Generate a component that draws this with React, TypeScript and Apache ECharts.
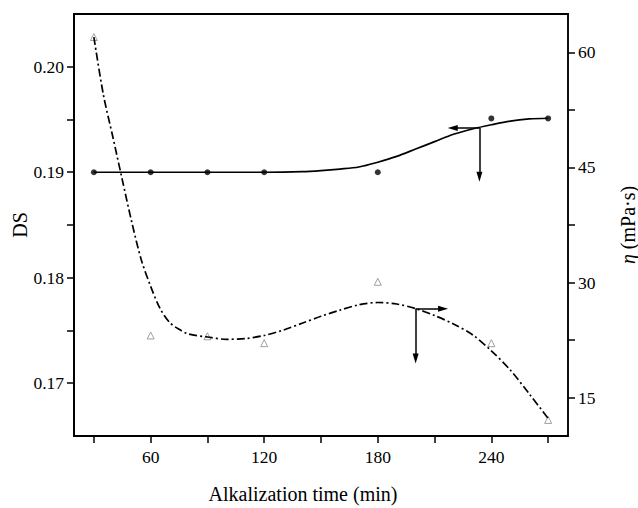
import React, { useEffect, useRef } from "react";
import * as echarts from "echarts";

// Measured data
const timeMin = [30, 60, 90, 120, 180, 240, 270];
const dsValues = [0.19, 0.19, 0.19, 0.19, 0.19, 0.1951, 0.1951];
const viscosityValues = [62, 23.1, 23, 22.1, 30.1, 22.1, 12.1];

// Fitted curves
const dsFitTime = [30, 60, 90, 120, 140, 150, 160, 170, 180, 190, 200, 210, 220, 230, 240, 250, 260, 270];
const dsFitValues = [0.19, 0.19, 0.19, 0.19, 0.19005, 0.19015, 0.1903, 0.1905, 0.19095, 0.1915, 0.1922, 0.1929, 0.1936, 0.1941, 0.1945, 0.19485, 0.19505, 0.19512];
const etaFitTime = [30, 35, 40, 45, 50, 55, 60, 65, 70, 75, 80, 90, 100, 110, 120, 130, 140, 150, 160, 170, 180, 190, 200, 210, 220, 230, 240, 250, 260, 270];
const etaFitValues = [62, 54.5, 49, 43.4, 37.9, 33, 29.5, 26.6, 24.8, 23.9, 23.3, 22.9, 22.6, 22.7, 23.1, 23.8, 24.7, 25.6, 26.4, 27.1, 27.4, 27.2, 26.6, 25.7, 24.6, 23.2, 21.1, 18.6, 15.5, 12.3];

// Axis ticks / labels
const xLabelValues = [60, 120, 180, 240];
const xTickValues = [30, 60, 90, 120, 150, 180, 210, 240, 270];
const dsLabelValues = [0.17, 0.18, 0.19, 0.2];
const dsTickValues = [0.17, 0.175, 0.18, 0.185, 0.19, 0.195, 0.2];
const etaLabelValues = [15, 30, 45, 60];
const etaTickValues = [15, 22.5, 30, 37.5, 45, 52.5, 60];

// Annotation arrows (data coordinates)
const dsArrowOrigin = [233.7, 0.1942];
const dsArrowLeftEnd = 219.6;
const dsArrowDownEnd = 0.18958;
const etaArrowOrigin = [200, 26.6];
const etaArrowRightEnd = 214.5;
const etaArrowDownEnd = 20.1;

const FONT = "Liberation Serif";
const INK = "#000";

export default function App() {
  const ref = useRef<HTMLDivElement>(null);
  useEffect(() => {
    if (!ref.current) return;
    const chart = echarts.init(ref.current, undefined, { renderer: "svg" });
    const arrowLine = { color: INK, width: 1.5, type: "solid" };
    chart.setOption({
      animation: false,
      backgroundColor: "#fff",
      textStyle: { fontFamily: FONT, color: INK },
      grid: {
        left: 74,
        top: 14,
        right: 70,
        bottom: 72,
        outerBoundsMode: "none",
        containLabel: false,
        show: true,
        borderColor: INK,
        borderWidth: 1.5,
        backgroundColor: "transparent",
      },
      xAxis: [
        {
          type: "value",
          position: "bottom",
          min: 19.5,
          max: 280.5,
          name: "Alkalization time (min)",
          nameLocation: "middle",
          nameGap: 48,
          nameTextStyle: { fontSize: 20, fontFamily: FONT, color: INK, padding: [0, 36, 0, 0] },
          axisLine: { show: true, lineStyle: { color: INK, width: 2 } },
          axisTick: { show: true, inside: false, length: 7, customValues: xTickValues, lineStyle: { color: INK, width: 1.5 } },
          axisLabel: { customValues: xLabelValues, fontSize: 17.5, fontFamily: FONT, color: INK, margin: 12 },
          splitLine: { show: false },
        },
        {
          type: "value",
          position: "top",
          min: 19.5,
          max: 280.5,
          axisLine: { show: true, lineStyle: { color: INK, width: 2.2 } },
          axisTick: { show: false },
          axisLabel: { show: false },
          splitLine: { show: false },
        },
      ],
      yAxis: [
        {
          type: "value",
          position: "left",
          min: 0.165,
          max: 0.205,
          name: "DS",
          nameLocation: "middle",
          nameRotate: 90,
          nameGap: 44,
          nameMoveOverlap: false,
          nameTextStyle: { fontSize: 20, fontFamily: FONT, color: INK },
          axisLine: { show: true, lineStyle: { color: INK, width: 2 } },
          axisTick: { show: true, inside: false, length: 7, customValues: dsTickValues, lineStyle: { color: INK, width: 1.5 } },
          axisLabel: {
            customValues: dsLabelValues,
            fontSize: 17.5,
            fontFamily: FONT,
            color: INK,
            margin: 10,
            formatter: (v: number) => v.toFixed(2),
          },
          splitLine: { show: false },
        },
        {
          type: "value",
          position: "right",
          min: 10,
          max: 65,
          name: "{i|η} (mPa·s)",
          nameLocation: "middle",
          nameRotate: 90,
          nameGap: 50,
          nameTextStyle: {
            fontSize: 20,
            fontFamily: FONT,
            color: INK,
            rich: { i: { fontStyle: "italic", fontSize: 20, fontFamily: FONT, color: INK } },
          },
          axisLine: { show: true, lineStyle: { color: INK, width: 1.5 } },
          axisTick: { show: true, inside: false, length: 7, customValues: etaTickValues, lineStyle: { color: INK, width: 1.5 } },
          axisLabel: { customValues: etaLabelValues, fontSize: 17.5, fontFamily: FONT, color: INK, margin: 10 },
          splitLine: { show: false },
        },
      ],
      series: [
        {
          name: "DS fit",
          type: "line",
          xAxisIndex: 0,
          yAxisIndex: 0,
          data: dsFitTime.map((t, i) => [t, dsFitValues[i]]),
          smooth: 0.3,
          showSymbol: false,
          symbol: "none",
          lineStyle: { color: INK, width: 1.7, type: "solid" },
          silent: true,
          markLine: {
            silent: true,
            symbol: ["none", "triangle"],
            symbolSize: [6, 10],
            label: { show: false },
            lineStyle: arrowLine,
            data: [
              [{ coord: dsArrowOrigin }, { coord: [dsArrowLeftEnd, dsArrowOrigin[1]] }],
              [{ coord: dsArrowOrigin }, { coord: [dsArrowOrigin[0], dsArrowDownEnd] }],
            ],
          },
        },
        {
          name: "η fit",
          type: "line",
          xAxisIndex: 0,
          yAxisIndex: 1,
          data: etaFitTime.map((t, i) => [t, etaFitValues[i]]),
          smooth: 0.3,
          showSymbol: false,
          symbol: "none",
          lineStyle: { color: INK, width: 1.7, type: [8, 3, 2, 3] },
          silent: true,
          markLine: {
            silent: true,
            symbol: ["none", "triangle"],
            symbolSize: [6, 10],
            label: { show: false },
            lineStyle: arrowLine,
            data: [
              [{ coord: etaArrowOrigin }, { coord: [etaArrowRightEnd, etaArrowOrigin[1]] }],
              [{ coord: etaArrowOrigin }, { coord: [etaArrowOrigin[0], etaArrowDownEnd] }],
            ],
          },
        },
        {
          name: "DS",
          type: "scatter",
          xAxisIndex: 0,
          yAxisIndex: 0,
          data: timeMin.map((t, i) => [t, dsValues[i]]),
          symbol: "circle",
          symbolSize: 6,
          itemStyle: { color: INK },
        },
        {
          name: "η",
          type: "scatter",
          xAxisIndex: 0,
          yAxisIndex: 1,
          data: timeMin.map((t, i) => [t, viscosityValues[i]]),
          symbol: "triangle",
          symbolSize: 7,
          itemStyle: { color: "#fff", borderColor: "#888", borderWidth: 1 },
        },
      ],
    });
    return () => chart.dispose();
  }, []);
  return (
    <div
      ref={ref}
      style={{ position: "absolute", left: 0, top: 0, width: 638, height: 508 }}
    />
  );
}
